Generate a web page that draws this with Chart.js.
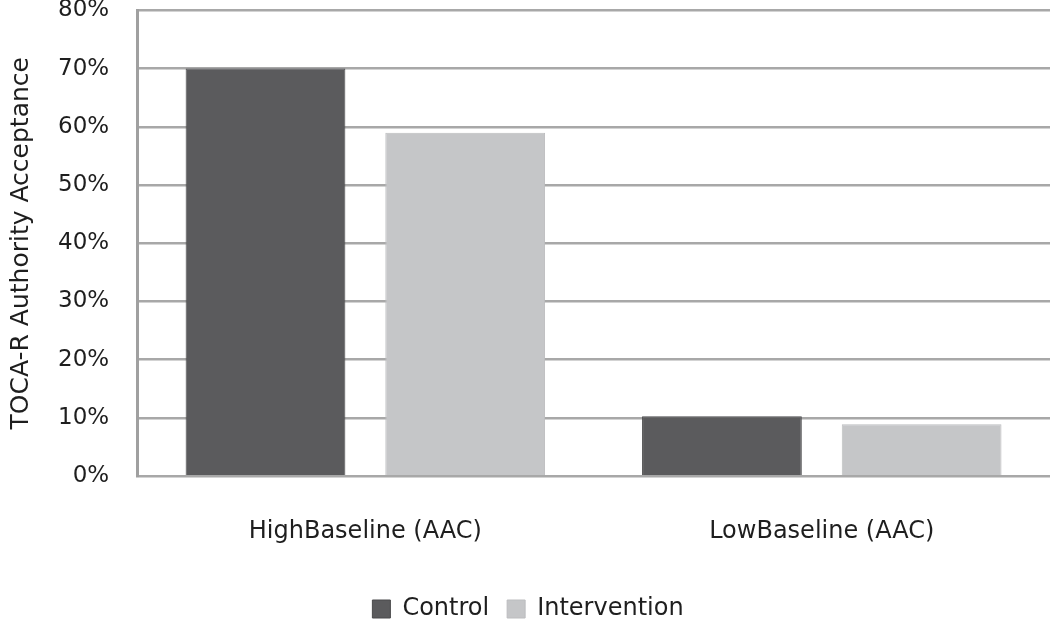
<!DOCTYPE html>
<html>
<head>
<meta charset="utf-8">
<script src="https://cdn.jsdelivr.net/npm/chart.js@4/dist/chart.umd.min.js"></script>
<style>
  html, body { margin: 0; padding: 0; background: #fff; }
  #wrap { width: 1050px; height: 619px; }
</style>
</head>
<body>
<div id="wrap"><canvas id="chart"></canvas></div>
<script>
const categories = ["HighBaseline (AAC)", "LowBaseline (AAC)"]
const controlValues = [70, 10.3]
const interventionValues = [59, 8.9]
const seriesNames = ["Control", "Intervention"]

const fontFamily = "'DejaVu Sans', sans-serif"
const textColor = "#1e1e1e"

const data = {
  labels: categories,
  datasets: [
    {
      label: seriesNames[0],
      data: controlValues,
      backgroundColor: "#5b5b5d",
      borderColor: "#4a4a4c",
      borderWidth: 1,
      categoryPercentage: 0.875,
      barPercentage: 0.8,
    },
    {
      label: seriesNames[1],
      data: interventionValues,
      backgroundColor: "#c5c6c8",
      borderColor: "#bcbdbf",
      borderWidth: 1,
      categoryPercentage: 0.875,
      barPercentage: 0.8,
    },
  ],
}

const config = {
  type: "bar",
  data: data,
  options: {
    responsive: true,
    maintainAspectRatio: false,
    animation: false,
    layout: {
      padding: { top: 0, right: 0, left: 6, bottom: -12 },
    },
    plugins: {
      legend: {
        position: "bottom",
        labels: {
          boxWidth: 18,
          boxHeight: 18,
          padding: 18,
          color: textColor,
          font: { family: fontFamily, size: 24 },
        },
      },
      tooltip: { enabled: false },
    },
    scales: {
      x: {
        grid: { display: false },
        border: { display: false },
        ticks: {
          padding: 33,
          color: textColor,
          font: { family: fontFamily, size: 24 },
        },
      },
      y: {
        min: 0,
        max: 80,
        ticks: {
          stepSize: 10,
          padding: 0,
          color: textColor,
          font: { family: fontFamily, size: 23, lineHeight: 0.9 },
          callback: (v) => v + "%",
        },
        grid: {
          color: "#a8a8a8",
          lineWidth: 2.5,
          drawTicks: true,
          tickLength: 28,
          tickColor: "rgba(0,0,0,0)",
        },
        border: { color: "#a0a0a0", width: 3 },
        title: {
          display: true,
          text: "TOCA-R Authority Acceptance",
          color: textColor,
          font: { family: fontFamily, size: 25 },
          padding: { top: 0, bottom: 22 },
        },
      },
    },
  },
}

new Chart(document.getElementById("chart"), config)
</script>
</body>
</html>
